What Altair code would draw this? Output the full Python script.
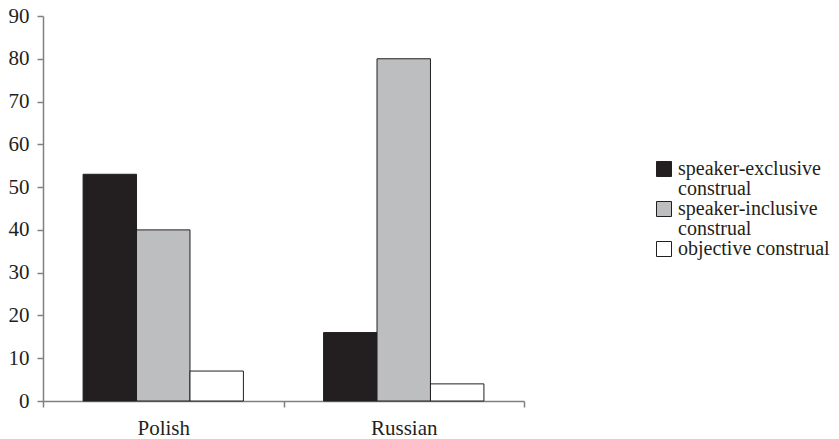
import altair as alt
import pandas as pd

languages = ["Polish", "Russian"]
construals = ["speaker-exclusive construal", "speaker-inclusive construal", "objective construal"]
polish = [53, 40, 7]
russian = [16, 80, 4]
colors = ["#231f20", "#bcbec0", "#ffffff"]

rows = []
for lang, vals in zip(languages, [polish, russian]):
    for c, v in zip(construals, vals):
        rows.append({"language": lang, "construal": c, "value": v})
df = pd.DataFrame(rows)

FONT = "Liberation Serif"

chart = alt.Chart(df).mark_bar(stroke="#231f20", strokeWidth=1).encode(
    x=alt.X("language:N", sort=languages, title=None,
            scale=alt.Scale(paddingInner=0, paddingOuter=0),
            axis=alt.Axis(labelAngle=0, tickBand="extent", tickSize=6,
                          labelPadding=10, labelFontSize=21)),
    xOffset=alt.XOffset("construal:N", sort=construals,
                        scale=alt.Scale(paddingInner=0, paddingOuter=0.75)),
    y=alt.Y("value:Q", title=None,
            scale=alt.Scale(domain=[0, 90], nice=False),
            axis=alt.Axis(values=list(range(0, 91, 10)), tickSize=6,
                          labelPadding=8, labelFontSize=21, grid=False)),
    color=alt.Color("construal:N", sort=construals,
                    scale=alt.Scale(domain=construals, range=colors),
                    legend=alt.Legend(
                        title=None, orient="none", legendX=611, legendY=143,
                        symbolType="square", symbolSize=225,
                        symbolStrokeColor="#231f20", symbolStrokeWidth=1,
                        labelFont=FONT, labelFontSize=20, labelColor="#231f20",
                        labelLimit=400, rowPadding=-2,
                        labelExpr="datum.label == 'objective construal' ? datum.label : split(datum.label, ' ')",
                    )),
).properties(
    width=481, height=385,
    padding={"left": 35, "top": 8, "right": 307, "bottom": 40},
    autosize=alt.AutoSizeParams(type="none"),
).configure(
    style={"guide-label": {"lineHeight": 20}}
).configure_axis(
    labelFont=FONT, labelColor="#231f20", domainColor="#808080",
    tickColor="#808080", domainWidth=1.5, tickWidth=1.5,
).configure_view(stroke=None)

chart.save("out.html", embed_options={"renderer": "svg", "actions": False})
